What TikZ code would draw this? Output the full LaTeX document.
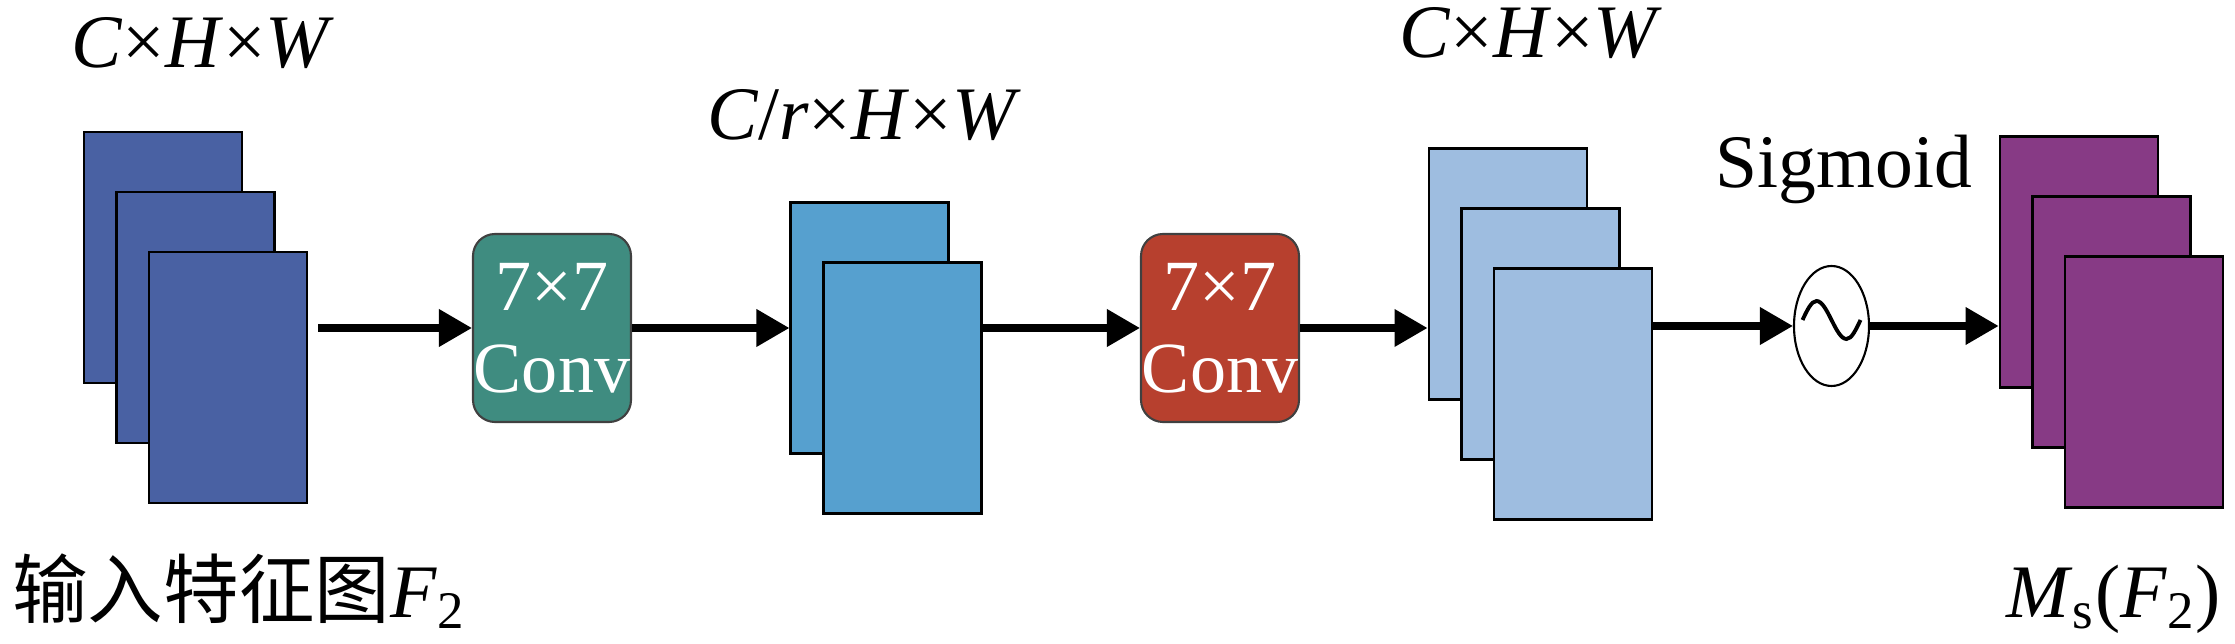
\documentclass[tikz,border=0pt]{standalone}
\usepackage{fontspec}
\setmainfont{Liberation Serif}
\newfontfamily\cjk{Noto Sans CJK SC}
\usepackage{tikz}
\definecolor{fmapdark}{RGB}{73, 97, 163}
\definecolor{fmapmid}{RGB}{86, 160, 207}
\definecolor{fmaplight}{RGB}{158, 189, 224}
\definecolor{fmappurple}{RGB}{135, 58, 133}
\definecolor{convteal}{RGB}{63, 140, 128}
\definecolor{convred}{RGB}{183, 64, 46}
\usetikzlibrary{
  arrows.meta,
  positioning,
  shapes.geometric,
}
\tikzset{
  >={Triangle[length=3.3mm,width=3.6mm]},
  fmap/.style={draw,rectangle,line width=0.8pt,minimum width=15.8mm,minimum height=25.1mm,inner sep=0pt},
  convbox/.style={draw=black!75,rectangle,rounded corners=2.2mm,line width=0.6pt,minimum width=15.8mm,minimum height=18.8mm,inner sep=0pt,text=white,align=center,font=\fontsize{20.5}{23.3}\selectfont},
  flow/.style={->,line width=2pt},
  dimlabel/.style={anchor=base,font=\fontsize{21.5}{25}\selectfont},
}

\begin{document}
\begin{tikzpicture}[x=0.1mm,y=-0.1mm,node distance=6mm and 3.25mm]
        \useasboundingbox (0,0) rectangle (2235,644);

        % input feature map
        \node[fmap,fill=fmapdark]    (f1)  [anchor=north west] at (82.6,130.6)  {};
        \node[fmap,fill=fmapdark]    (f2)  [below right=of f1.north west]       {};
        \node[fmap,fill=fmapdark]    (f3)  [below right=of f2.north west]       {};

        \node[convbox,fill=convteal] (c1)  at (552,328)  {7×7\\Conv};

        \node[fmap,fill=fmapmid]     (m1)  [anchor=north west] at (789.4,201)   {};
        \node[fmap,fill=fmapmid]     (m2)  [below right=of m1.north west]       {};

        \node[convbox,fill=convred]  (c2)  at (1220,328) {7×7\\Conv};

        \node[fmap,fill=fmaplight]   (b1)  [anchor=north west] at (1427.5,147)  {};
        \node[fmap,fill=fmaplight]   (b2)  [below right=of b1.north west]       {};
        \node[fmap,fill=fmaplight]   (b3)  [below right=of b2.north west]       {};

        \node[draw,ellipse,line width=0.6pt,minimum width=7.5mm,minimum height=12mm,inner sep=0pt] (sg) at (1831.5,326) {};
        \draw[line width=1.1pt] ([shift={(-29,-6)}]sg.center) sin ++(14,-19) cos ++(15,19) sin ++(15,19) cos ++(14,-19);

        \node[fmap,fill=fmappurple]  (p1)  [anchor=north west] at (1998.6,135)  {};
        \node[fmap,fill=fmappurple]  (p2)  [below right=of p1.north west]       {};
        \node[fmap,fill=fmappurple]  (p3)  [below right=of p2.north west]       {};

        % connections
        \draw[flow,shorten <=1mm] (f3.east |- c1) -- (c1);
        \draw[flow] (c1) -- (m1.west |- c1);
        \draw[flow] (m2.east |- c2) -- (c2);
        \draw[flow] (c2) -- (b1.west |- c2);
        \draw[flow] (b3.east |- sg) -- (sg);
        \draw[flow] (sg) -- (p1.west |- sg);

        % labels
        \node[dimlabel] (lf)  at (203,68)   {\textit{C}×\textit{H}×\textit{W}};
        \node[dimlabel] (lm)  at (864,140)  {\textit{C}/\textit{r}×\textit{H}×\textit{W}};
        \node[dimlabel] (lb)  at (1531,58)  {\textit{C}×\textit{H}×\textit{W}};
        \node[dimlabel] (ls)  at (1844,188) {Sigmoid};
        \node[anchor=base west,font=\fontsize{21.5}{25}\selectfont] (lin) at (0,618) {{\cjk 输入特征图}\textit{F}\textsubscript{2}};
        \node[anchor=base east,font=\fontsize{21.5}{25}\selectfont] (lout) at (2233,618) {\textit{M}\textsubscript{s}(\textit{F}\textsubscript{2})};
    \end{tikzpicture}
\end{document}
